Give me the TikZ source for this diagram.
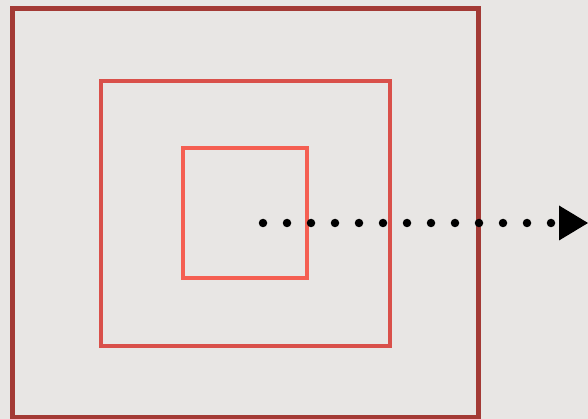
\documentclass[tikz,border=0pt]{standalone}
\usepackage{tikz}
\usetikzlibrary{arrows.meta, positioning}
\usepackage{xcolor}

\definecolor{bgGray}{HTML}{E8E6E4}
\definecolor{outerRed}{HTML}{A33A35}
\definecolor{midRed}{HTML}{D9504A}
\definecolor{innerRed}{HTML}{F55F52}

\begin{document}
\begin{tikzpicture}[x=1pt, y=-1pt,
  frame/.style={draw, rectangle, inner sep=0pt, outer sep=0pt},
  dotline/.style={line width=8.5pt, line cap=round, dash pattern=on 0pt off 24pt}]
  % Background
  \fill[bgGray] (0,0) rectangle (588,419);
  \useasboundingbox (0,0) rectangle (588,419);

  % Squares
  \node[frame, line width=5pt, draw=outerRed, minimum width=466pt, minimum height=408pt] (outer) at (245, 213) {};
  \node[frame, line width=4.5pt, draw=midRed, minimum width=289pt, minimum height=265pt] (middle) at (245.5, 213.5) {};
  \node[frame, line width=4.5pt, draw=innerRed, minimum width=124pt, minimum height=130pt] (inner) at (245, 213) {};

  % Arrow
  \coordinate (start) at (263, 223);
  \coordinate (tip) at (588, 223);
  \draw[dotline, -{Triangle[length=29pt, width=35pt, line width=0pt]}] (start) -- (tip);
\end{tikzpicture}
\end{document}
